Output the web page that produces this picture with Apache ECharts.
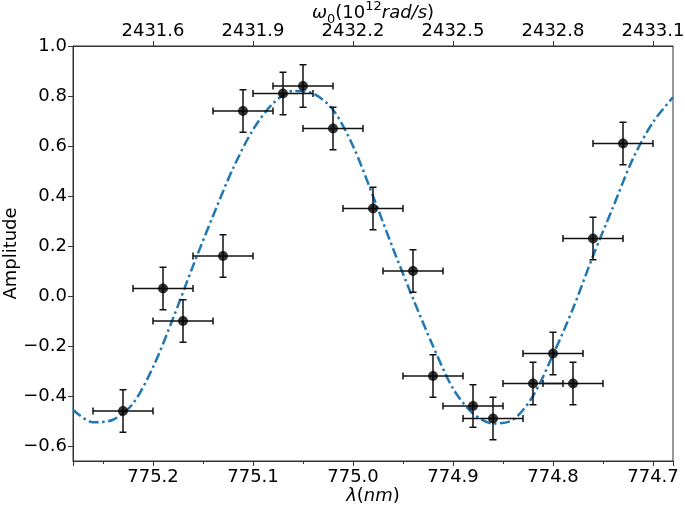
<!DOCTYPE html>
<html>
<head>
<meta charset="utf-8">
<script src="https://cdn.jsdelivr.net/npm/echarts@6/dist/echarts.min.js"></script>
<style>
  html, body { margin: 0; padding: 0; background: #fff; }
  #chart { width: 685px; height: 506px; }
</style>
</head>
<body>
<div id="chart"></div>
<script>
// measured points (wavelength in nm, amplitude)
var lambda = [775.23, 775.19, 775.17, 775.13, 775.11, 775.07, 775.05, 775.02, 774.98,
  774.94, 774.92, 774.88, 774.86, 774.82, 774.80, 774.78, 774.76, 774.73]
var amplitude = [-0.46, 0.03, -0.10, 0.16, 0.74, 0.81, 0.84, 0.67, 0.35,
  0.10, -0.32, -0.44, -0.49, -0.35, -0.23, -0.35, 0.23, 0.61]
var lambdaErr = 0.03
var ampErr = 0.085

// fitted curve
var fitLambda = [775.28, 775.26, 775.24, 775.22, 775.20, 775.18, 775.16, 775.14, 775.12, 775.10,
  775.08, 775.06, 775.04, 775.02, 775.00, 774.98, 774.96, 774.94, 774.92, 774.90,
  774.88, 774.86, 774.84, 774.82, 774.80, 774.78, 774.76, 774.74, 774.72, 774.70, 774.68]
var fitAmp = [-0.455, -0.505, -0.495, -0.43, -0.285, -0.09, 0.12, 0.32, 0.51, 0.665,
  0.77, 0.82, 0.81, 0.745, 0.60, 0.40, 0.19, -0.01, -0.20, -0.37,
  -0.47, -0.51, -0.495, -0.40, -0.235, -0.05, 0.16, 0.355, 0.55, 0.695, 0.795]

// top axis labels (omega, 10^12 rad/s) at the bottom ticks 775.2 ... 774.7
var topTicks = ['2431.6', '2431.9', '2432.2', '2432.5', '2432.8', '2433.1']

var font = 'DejaVu Sans'
var myChart = echarts.init(document.getElementById('chart'))

var pts = lambda.map(function (l, i) { return [l, amplitude[i]] })
var fit = fitLambda.map(function (l, i) { return [l, fitAmp[i]] })

function onTick (v) {
  return Math.abs(v * 10 - Math.round(v * 10)) < 1e-6
}

var axisCommon = {
  type: 'value',
  min: 774.68,
  max: 775.28,
  inverse: true,
  splitNumber: 6,
  nameMoveOverlap: false,
  splitLine: { show: false },
  axisLine: { show: true, onZero: false, lineStyle: { color: '#333', width: 1 } },
  axisTick: { show: true, inside: false, length: 5, lineStyle: { color: '#333' } }
}

var option = {
  animation: false,
  grid: {
    left: 73, right: 12, top: 46, bottom: 45,
    containLabel: false,
    outerBoundsMode: 'none',
    show: true, borderColor: '#333', borderWidth: 1
  },
  xAxis: [
    Object.assign({}, axisCommon, {
      position: 'bottom',
      minorTick: { show: true, splitNumber: 2, length: 3, lineStyle: { color: '#333' } },
      axisLabel: {
        color: '#000', fontSize: 18, fontFamily: font, margin: 7,
        showMinLabel: false, showMaxLabel: false,
        formatter: function (v) { return onTick(v) ? v.toFixed(1) : '' }
      },
      name: '{it|λ}({it|nm})',
      nameLocation: 'middle',
      nameGap: 26,
      nameTextStyle: {
        color: '#000', fontSize: 18, fontFamily: font,
        rich: { it: { fontStyle: 'italic', fontSize: 18, fontFamily: font, color: '#000' } }
      }
    }),
    Object.assign({}, axisCommon, {
      position: 'top',
      axisLabel: {
        color: '#000', fontSize: 18, fontFamily: font, margin: 6,
        showMinLabel: false, showMaxLabel: false,
        formatter: function (v) {
          if (!onTick(v)) return ''
          var k = Math.round((775.2 - v) * 10)
          return topTicks[k] || ''
        }
      },
      name: '{it|ω}{sub|0}(10{sup|12}{it|rad/s})',
      nameLocation: 'middle',
      nameGap: 20,
      nameTextStyle: {
        color: '#000', fontSize: 18, fontFamily: font, lineHeight: 26,
        rich: {
          it: { fontStyle: 'italic', fontSize: 18, fontFamily: font, color: '#000', lineHeight: 26 },
          sub: { fontSize: 13, fontFamily: font, color: '#000', verticalAlign: 'bottom', lineHeight: 13 },
          sup: { fontSize: 13, fontFamily: font, color: '#000', verticalAlign: 'top', lineHeight: 13 }
        }
      }
    })
  ],
  yAxis: {
    type: 'value',
    min: -0.66,
    max: 1.0,
    splitNumber: 8,
    nameMoveOverlap: false,
    splitLine: { show: false },
    axisLine: { show: true, onZero: false, lineStyle: { color: '#333', width: 1 } },
    axisTick: { show: true, inside: false, length: 5, lineStyle: { color: '#333' } },
    axisLabel: {
      color: '#000', fontSize: 18, fontFamily: font, margin: 6,
      showMinLabel: false,
      formatter: function (v) { return v.toFixed(1).replace('-', '\u2212') }
    },
    name: 'Amplitude',
    nameLocation: 'middle',
    nameGap: 53,
    nameTextStyle: { color: '#000', fontSize: 18, fontFamily: font }
  },
  series: [
    {
      name: 'fit',
      type: 'line',
      data: fit,
      smooth: 0.3,
      showSymbol: false,
      z: 2,
      lineStyle: { color: '#1f77b4', width: 2.5, type: [10, 3.5, 2.5, 3.5] }
    },
    {
      name: 'errors',
      type: 'custom',
      data: pts,
      z: 3,
      renderItem: function (params, api) {
        var x = api.value(0)
        var y = api.value(1)
        var l = api.coord([x + lambdaErr, y])
        var r = api.coord([x - lambdaErr, y])
        var t = api.coord([x, y + ampErr])
        var b = api.coord([x, y - ampErr])
        var cap = 3.5
        var st = { stroke: '#111', lineWidth: 1.5 }
        function seg (x1, y1, x2, y2) {
          return { type: 'line', shape: { x1: x1, y1: y1, x2: x2, y2: y2 }, style: st }
        }
        return {
          type: 'group',
          children: [
            seg(l[0], l[1], r[0], r[1]),
            seg(t[0], t[1], b[0], b[1]),
            seg(l[0], l[1] - cap, l[0], l[1] + cap),
            seg(r[0], r[1] - cap, r[0], r[1] + cap),
            seg(t[0] - cap, t[1], t[0] + cap, t[1]),
            seg(b[0] - cap, b[1], b[0] + cap, b[1])
          ]
        }
      }
    },
    {
      name: 'data',
      type: 'scatter',
      data: pts,
      symbol: 'circle',
      symbolSize: 10,
      z: 4,
      itemStyle: { color: '#000' }
    }
  ]
}
myChart.setOption(option)
</script>
</body>
</html>
